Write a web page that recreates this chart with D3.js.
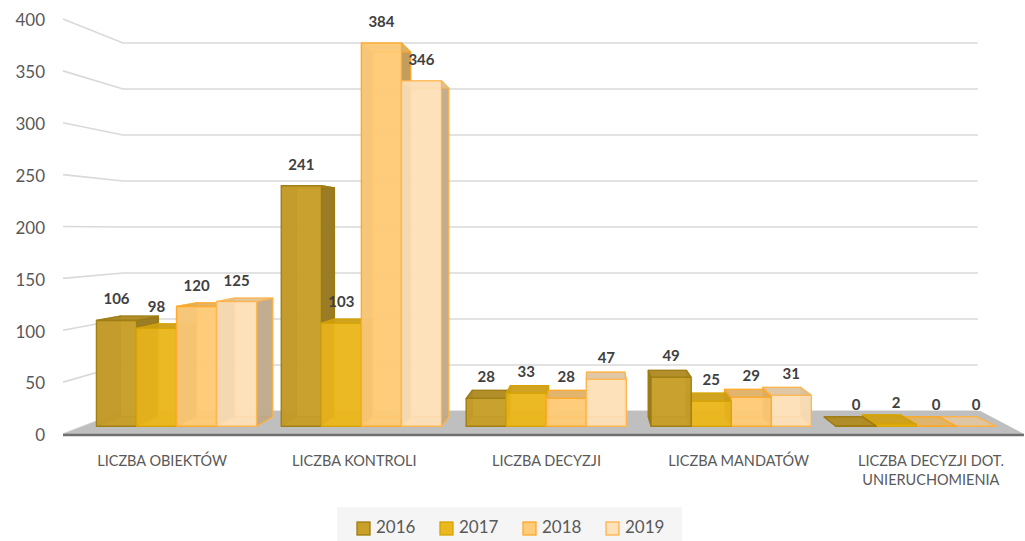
<!DOCTYPE html>
<html>
<head>
<meta charset="utf-8">
<script src="https://cdn.jsdelivr.net/npm/d3@7"></script>
<style>
  body { margin: 0; background: #fff; }
  svg { display: block; font-family: Lato, "Open Sans", sans-serif; }
</style>
</head>
<body>
<div id="chart"></div>
<script>
// chart data
var categories = ["LICZBA OBIEKTÓW", "LICZBA KONTROLI", "LICZBA DECYZJI", "LICZBA MANDATÓW", "LICZBA DECYZJI DOT. UNIERUCHOMIENIA"];
var categoryLines = [["LICZBA OBIEKTÓW"], ["LICZBA KONTROLI"], ["LICZBA DECYZJI"], ["LICZBA MANDATÓW"], ["LICZBA DECYZJI DOT.", "UNIERUCHOMIENIA"]];
var years = ["2016", "2017", "2018", "2019"];
var values2016 = [106, 241, 28, 49, 0];
var values2017 = [98, 103, 33, 25, 2];
var values2018 = [120, 384, 28, 29, 0];
var values2019 = [125, 346, 47, 31, 0];
var yTicks = [0, 50, 100, 150, 200, 250, 300, 350, 400];

var fills = ["#C9A02A", "#ECB81F", "#FFCD79", "#FEE2BB"];
var strokes = ["#9C7B10", "#D6A300", "#FFA726", "#FFB347"];

var width = 1025, height = 541;
var svg = d3.select("#chart").append("svg")
  .attr("width", width).attr("height", height);

// world (front plane) scales
var yScale = d3.scaleLinear().domain([0, 400]).range([434, 19]);
var x0 = d3.scaleBand().domain(categories).range([63, 1024]).padding(0);
var x1 = d3.scaleBand().domain(years)
  .range([x0.bandwidth() * 0.072, x0.bandwidth() * 0.938]);

// simple one point perspective, t = 0 front wall, t = 1 back wall
var CX = 592.6, CY = 231, K = 0.1278;
function proj(x, y, t) {
  var s = 1 / (1 + K * t);
  return [CX + (x - CX) * s, CY + (y - CY) * s];
}
function poly(pts) { return pts.map(function(p){ return p.join(","); }).join(" "); }

var barFront = 0.31, barBack = 0.72;

// floor
var floorPts = [proj(63, yScale(0), 0), proj(63, yScale(0), 1), proj(1030, yScale(0), 1), proj(1024, yScale(0), 0)];

// gridlines on the left wall and back wall
var grid = svg.append("g");
yTicks.forEach(function(v) {
  var a = proj(63, yScale(v), 0), b = proj(63, yScale(v), 1), c = proj(1027, yScale(v), 1);
  grid.append("polyline")
    .attr("points", poly([a, b, c]))
    .attr("fill", "none")
    .attr("stroke", "#D9D9D9")
    .attr("stroke-width", 1.6);
});

svg.append("polygon")
  .attr("points", poly(floorPts))
  .attr("fill", "#BFBFBF");
svg.append("line")
  .attr("x1", 63).attr("x2", 1024)
  .attr("y1", yScale(0) + 1).attr("y2", yScale(0) + 1)
  .attr("stroke", "#6F6F6F").attr("stroke-width", 2.5);

// y axis labels
svg.append("g").selectAll("text")
  .data(yTicks).enter().append("text")
  .attr("x", 45)
  .attr("y", function(d){ return yScale(d) + 3; })
  .attr("text-anchor", "end")
  .attr("dominant-baseline", "middle")
  .attr("fill", "#595959")
  .attr("font-size", "17px")
  .text(function(d){ return d; });

// build the bars
var series = [values2016, values2017, values2018, values2019];
var bars = [];
categories.forEach(function(c, ci) {
  years.forEach(function(yr, yi) {
    var xa = x0(c) + x1(yr), xb = xa + x1.bandwidth();
    bars.push({ xa: xa, xb: xb, v: series[yi][ci], yi: yi });
  });
});
// paint far-from-centre bars first
bars.sort(function(a, b) {
  return Math.abs((b.xa + b.xb) / 2 - CX) - Math.abs((a.xa + a.xb) / 2 - CX);
});

var barG = svg.append("g");
bars.forEach(function(d) {
  var y0 = yScale(0), y1 = yScale(d.v);
  var P = function(x, y, t){ return proj(x, y, t); };
  var base = d3.color(fills[d.yi]);
  var faces = [
    { pts: [P(d.xa,y0,barBack), P(d.xb,y0,barBack), P(d.xb,y1,barBack), P(d.xa,y1,barBack)], col: base.darker(0.15) },
    { pts: [P(d.xa,y0,barFront), P(d.xb,y0,barFront), P(d.xb,y0,barBack), P(d.xa,y0,barBack)], col: base.darker(0.2) },
    { pts: [P(d.xa,y0,barFront), P(d.xa,y1,barFront), P(d.xa,y1,barBack), P(d.xa,y0,barBack)], col: base.darker(0.9) },
    { pts: [P(d.xb,y0,barFront), P(d.xb,y1,barFront), P(d.xb,y1,barBack), P(d.xb,y0,barBack)], col: base.darker(0.9) },
    { pts: [P(d.xa,y1,barFront), P(d.xb,y1,barFront), P(d.xb,y1,barBack), P(d.xa,y1,barBack)], col: base.darker(0.4) },
    { pts: [P(d.xa,y0,barFront), P(d.xb,y0,barFront), P(d.xb,y1,barFront), P(d.xa,y1,barFront)], col: base }
  ];
  var g = barG.append("g");
  faces.forEach(function(f) {
    g.append("polygon")
      .attr("points", poly(f.pts))
      .attr("fill", f.col)
      .attr("fill-opacity", 0.85)
      .attr("stroke", strokes[d.yi])
      .attr("stroke-opacity", 0.8)
      .attr("stroke-width", 1.3)
      .attr("stroke-linejoin", "round");
  });
  d.lx = (P(d.xa, y1, barFront)[0] + P(d.xb, y1, barFront)[0]) / 2;
  d.ly = P(d.xa, y1, barFront)[1] - 16;
});

// value labels
svg.append("g").selectAll("text")
  .data(bars).enter().append("text")
  .attr("x", function(d){ return d.lx; })
  .attr("y", function(d){ return d.ly; })
  .attr("text-anchor", "middle")
  .attr("fill", "#404040")
  .attr("font-size", "15px")
  .attr("font-weight", "bold")
  .text(function(d){ return d.v; });

// category labels
var catG = svg.append("g");
categories.forEach(function(c, i) {
  var t = catG.append("text")
    .attr("x", x0(c) + x0.bandwidth() / 2 + 3)
    .attr("y", 466)
    .attr("text-anchor", "middle")
    .attr("fill", "#595959")
    .attr("font-size", "14.5px");
  categoryLines[i].forEach(function(line, li) {
    t.append("tspan")
      .attr("x", x0(c) + x0.bandwidth() / 2 + 3)
      .attr("dy", li === 0 ? 0 : 19)
      .text(line);
  });
});

// legend
var legend = svg.append("g");
legend.append("rect")
  .attr("x", 337).attr("y", 507).attr("width", 345).attr("height", 34)
  .attr("fill", "#F5F5F5");
var legendX = [357, 440, 523, 606];
years.forEach(function(yr, i) {
  legend.append("rect")
    .attr("x", legendX[i]).attr("y", 522).attr("width", 13).attr("height", 13)
    .attr("fill", fills[i]).attr("stroke", strokes[i]).attr("stroke-width", 1.3);
  legend.append("text")
    .attr("x", legendX[i] + 19).attr("y", 529)
    .attr("dominant-baseline", "middle")
    .attr("fill", "#595959")
    .attr("font-size", "17px")
    .text(yr);
});
</script>
</body>
</html>
